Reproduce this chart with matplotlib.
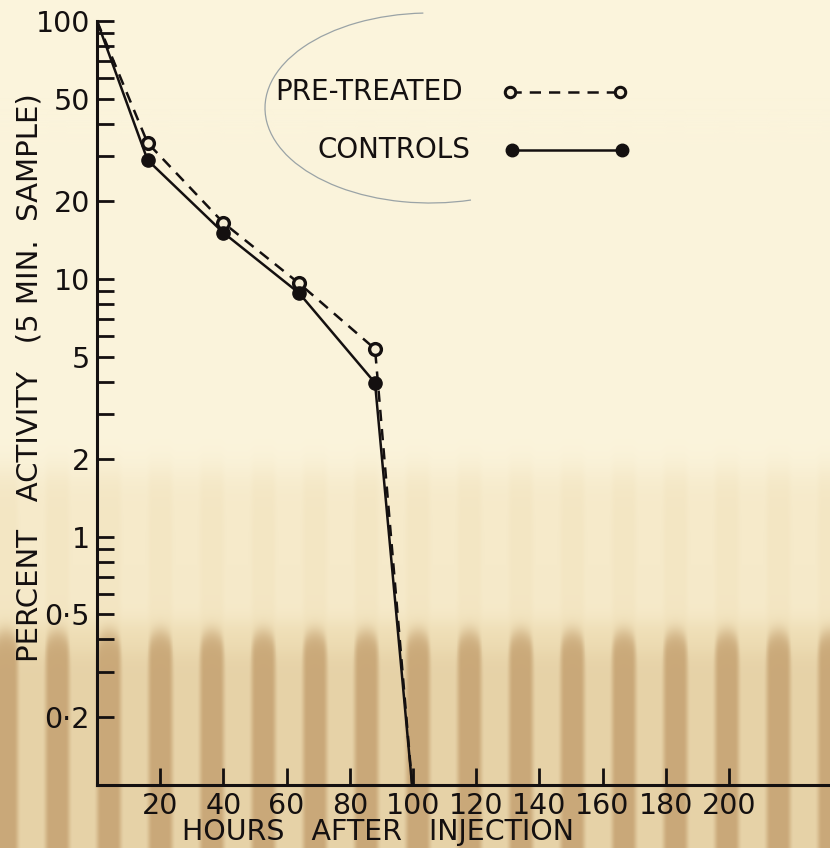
import numpy as np
import matplotlib
matplotlib.use("Agg")
import matplotlib.pyplot as plt
from matplotlib.lines import Line2D
from matplotlib.patches import Arc
from matplotlib.transforms import Affine2D

# ---- data -------------------------------------------------------------
hours = [0, 16, 40, 64, 88, 100]
pre_treated = [100, 33.7, 16.5, 9.6, 5.35, 0.1]
controls = [100, 28.9, 15.1, 8.8, 3.95, 0.1]
marked_points = [1, 2, 3, 4]

x_ticks = [20, 40, 60, 80, 100, 120, 140, 160, 180, 200]
x_tick_labels = ["20", "40", "60", "80", "100", "120", "140", "160", "180", "200"]

y_labelled = [100, 50, 20, 10, 5, 2, 1, 0.5, 0.2]
y_labelled_text = ["100", "50", "20", "10", "5", "2", "1", "0·5", "0·2"]
y_unlabelled = [90, 80, 70, 60, 40, 30, 9, 8, 7, 6, 4, 3, 0.9, 0.8, 0.7, 0.6, 0.4, 0.3]

# ---- figure -----------------------------------------------------------
W, H = 830, 848
DPI = 100
plt.rcParams["font.family"] = ["DejaVu Sans"]
fig = plt.figure(figsize=(W / DPI, H / DPI), dpi=DPI)

# aged paper background: cream top, pale tan middle, streaked brown bottom
yy, xx = np.mgrid[0:H, 0:W].astype(float)
cream = np.array([251, 244, 220]) / 255.0
tan = np.array([246, 234, 202]) / 255.0
brown = np.array([200, 166, 118]) / 255.0
light = np.array([238, 221, 180]) / 255.0

band = 1.0 / (1.0 + np.exp(-(yy - 472) / 10.0))
base = cream[None, None, :] * (1 - band[..., None]) + tan[None, None, :] * band[..., None]
phase = np.cos(2 * np.pi * (xx - 160) / 51.5)
streak = np.clip((phase + 0.3) / 0.9, 0, 1)
streak = streak * streak * (3 - 2 * streak)
faint = band * (0.3 * streak)
base = base * (1 - faint[..., None]) + light[None, None, :] * faint[..., None]
low = 1.0 / (1.0 + np.exp(-(yy - 652 + 22 * np.sqrt(np.clip(phase, 0, 1))) / 6.0))
lower_mix = low * (0.2 + 0.75 * streak)
bottom_col = light[None, None, :] * (1 - lower_mix[..., None]) + brown[None, None, :] * lower_mix[..., None]
low_band = 1.0 / (1.0 + np.exp(-(yy - 622) / 6.0))
img = base * (1 - low_band[..., None]) + bottom_col * low_band[..., None]
fig.figimage(np.clip(img, 0, 1), xo=0, yo=0, origin="upper", zorder=-5)

ax = fig.add_axes([97 / W, (H - 785) / H, (W - 97) / W, (785 - 21) / H])
ax.set_facecolor("none")
ax.set_yscale("log")
ax.set_xlim(0, 232)
ax.set_ylim(0.109, 100)

ink = "#141010"
paper = "#f6eed6"
ax.plot(hours, pre_treated, color=ink, lw=1.8, dashes=(4.5, 3.2),
        marker="o", markevery=marked_points, markersize=8.5,
        markerfacecolor=paper, markeredgecolor=ink, markeredgewidth=2.4,
        zorder=3)
ax.plot(hours, controls, color=ink, lw=1.8,
        marker="o", markevery=marked_points, markersize=9.5,
        markerfacecolor=ink, markeredgecolor=ink, zorder=4)

# axes styling
for side in ("top", "right"):
    ax.spines[side].set_visible(False)
for side in ("left", "bottom"):
    ax.spines[side].set_linewidth(2.2)
    ax.spines[side].set_color(ink)

ax.set_xticks(x_ticks)
ax.set_xticklabels(x_tick_labels)
ax.set_yticks(y_labelled + y_unlabelled)
ax.set_yticklabels(y_labelled_text + [""] * len(y_unlabelled))
ax.yaxis.set_minor_locator(matplotlib.ticker.NullLocator())
ax.xaxis.set_minor_locator(matplotlib.ticker.NullLocator())
ax.tick_params(axis="both", direction="in", length=12.5, width=2.0, color=ink,
               labelsize=20.5, labelcolor=ink)
ax.tick_params(axis="y", pad=5)
ax.tick_params(axis="x", pad=5)

ax.set_xlabel("HOURS   AFTER   INJECTION", fontsize=20.5, color=ink)
ax.xaxis.set_label_coords((378 - 97) / (W - 97), -(818 - 785) / (785 - 21))
ax.set_ylabel("PERCENT   ACTIVITY   (5 MIN.  SAMPLE)", fontsize=21, color=ink)
ax.yaxis.set_label_coords(-(97 - 44) / (W - 97), (785 - 378) / (785 - 21))

# key
ax.text(0.243, 0.907, "PRE-TREATED", transform=ax.transAxes, fontsize=20,
        color=ink, va="center", ha="left")
ax.text(0.3015, 0.831, "CONTROLS", transform=ax.transAxes, fontsize=20,
        color=ink, va="center", ha="left")
ax.add_line(Line2D([0.5634, 0.7135], [0.907, 0.907], transform=ax.transAxes,
                   color=ink, lw=1.8, dashes=(4.5, 3.2), marker="o", markersize=7.5,
                   markerfacecolor=paper, markeredgecolor=ink, markeredgewidth=2.2))
ax.add_line(Line2D([0.566, 0.716], [0.831, 0.831], transform=ax.transAxes,
                   color=ink, lw=1.8, marker="o", markersize=9,
                   markerfacecolor=ink, markeredgecolor=ink))

# faint pencil loop around the key (figure pixel coordinates, origin top-left)
to_px = Affine2D().scale(1, -1).translate(0, H)
loop = Arc((430, 108), 330, 190, angle=0, theta1=66, theta2=266,
           transform=to_px, color="#9aa3a6", lw=0.9, zorder=1)
fig.add_artist(loop)

fig.savefig("out.png", dpi=DPI)
